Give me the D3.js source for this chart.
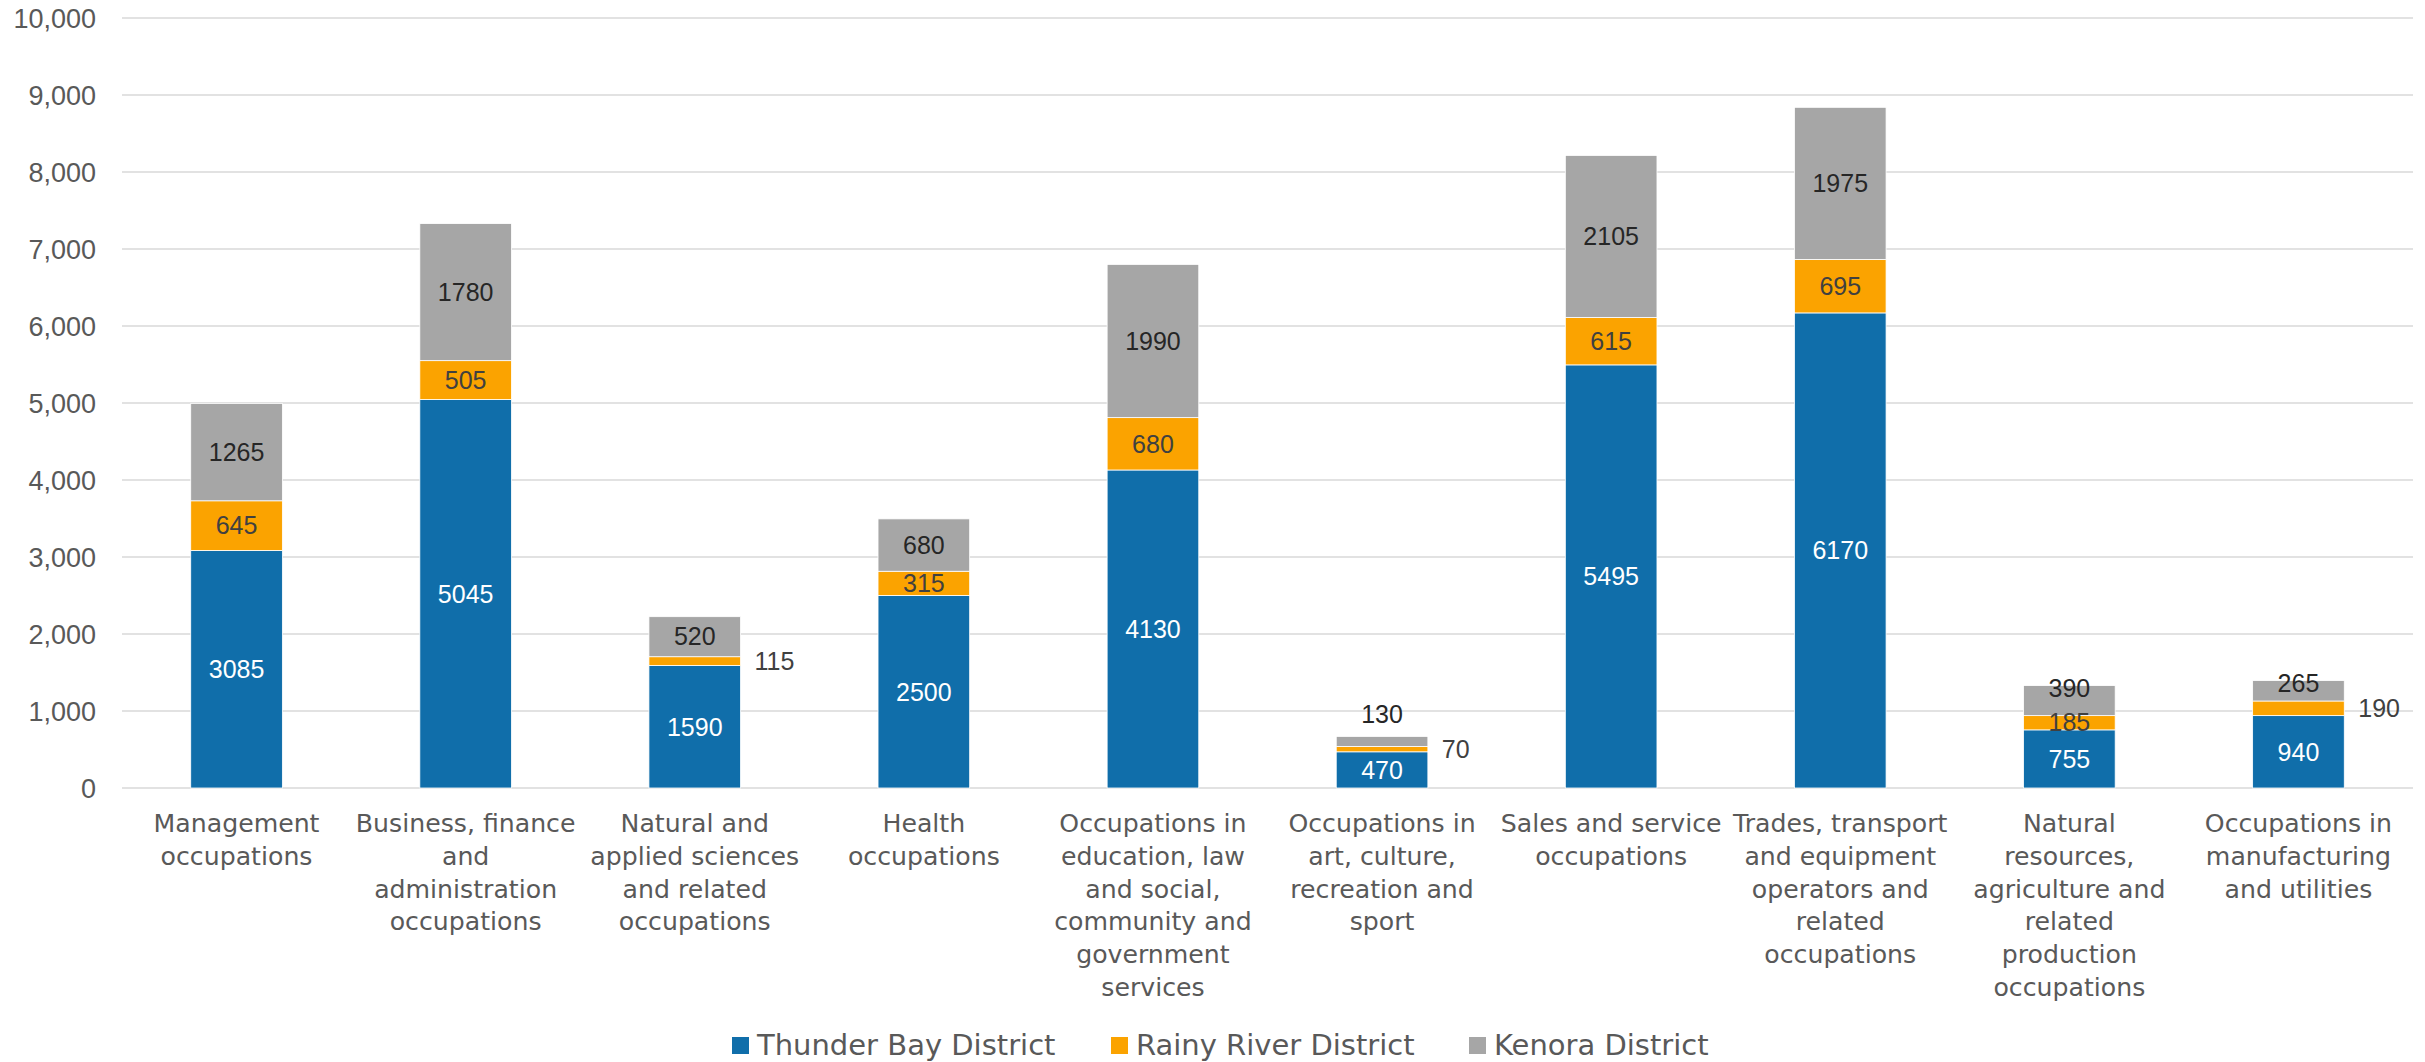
<!DOCTYPE html>
<html><head><meta charset="utf-8">
<script src="https://cdn.jsdelivr.net/npm/d3@7"></script>
<style>
html,body{margin:0;padding:0;background:#fff;}
svg{display:block;}
</style></head>
<body>
<svg id="chart" width="2425" height="1062"></svg>
<script>
const categories = [
  ["Management", "occupations"],
  ["Business, finance", "and", "administration", "occupations"],
  ["Natural and", "applied sciences", "and related", "occupations"],
  ["Health", "occupations"],
  ["Occupations in", "education, law", "and social,", "community and", "government", "services"],
  ["Occupations in", "art, culture,", "recreation and", "sport"],
  ["Sales and service", "occupations"],
  ["Trades, transport", "and equipment", "operators and", "related", "occupations"],
  ["Natural", "resources,", "agriculture and", "related", "production", "occupations"],
  ["Occupations in", "manufacturing", "and utilities"]
];
const seriesNames = ["Thunder Bay District", "Rainy River District", "Kenora District"];
const thunderBay = [3085, 5045, 1590, 2500, 4130, 470, 5495, 6170, 755, 940];
const rainyRiver = [645, 505, 115, 315, 680, 70, 615, 695, 185, 190];
const kenora = [1265, 1780, 520, 680, 1990, 130, 2105, 1975, 390, 265];
const yTicks = [0, 1000, 2000, 3000, 4000, 5000, 6000, 7000, 8000, 9000, 10000];

(function() {
const colors = ["#106EAA", "#FBA300", "#A6A6A6"];
const labelColors = ["#ffffff", "#404040", "#262626"];
const placement = {
  1: {2: "right", 5: "right", 9: "right"},
  2: {5: "above", 8: "top", 9: "top"}
};

const svg = d3.select("#chart");
const pLeft = 122, pRight = 2413, pTop = 18, pBottom = 788;
const numFont = "'Liberation Sans', Arial, sans-serif";
const txtFont = "'DejaVu Sans', sans-serif";

const idx = d3.range(categories.length);
const x = d3.scaleBand().domain(idx).range([pLeft, pRight]).paddingInner(0.6).paddingOuter(0.3);
const y = d3.scaleLinear().domain([0, 10000]).range([pBottom, pTop]);

svg.append("g").selectAll("line").data(yTicks).join("line")
  .attr("x1", pLeft).attr("x2", pRight)
  .attr("y1", d => y(d)).attr("y2", d => y(d))
  .attr("stroke", "#D9D9D9").attr("stroke-width", 1.6);

const yAxis = d3.axisLeft(y).tickValues(yTicks).tickFormat(d3.format(",")).tickSize(0).tickPadding(0);
const ya = svg.append("g").attr("transform", "translate(96,0)").call(yAxis);
ya.select(".domain").remove();
ya.selectAll("text").attr("font-family", numFont).attr("font-size", 27).attr("fill", "#595959").attr("dy", "0.35em");

const rows = idx.map(i => ({i, s0: thunderBay[i], s1: rainyRiver[i], s2: kenora[i]}));
const stacked = d3.stack().keys(["s0", "s1", "s2"])(rows);

const g = svg.append("g");
stacked.forEach((layer, si) => {
  g.append("g").selectAll("rect").data(layer).join("rect")
    .attr("x", d => x(d.data.i))
    .attr("width", x.bandwidth())
    .attr("y", d => y(d[1]))
    .attr("height", d => y(d[0]) - y(d[1]))
    .attr("fill", colors[si])
    .attr("stroke", "#ffffff").attr("stroke-width", 0.8);
});

stacked.forEach((layer, si) => {
  g.append("g").selectAll("text").data(layer).join("text")
    .each(function(d) {
      const i = d.data.i;
      const p = (placement[si] || {})[i] || "center";
      const val = d[1] - d[0];
      let lx = x(i) + x.bandwidth() / 2;
      let ly = (y(d[0]) + y(d[1])) / 2;
      let anchor = "middle";
      let fill = labelColors[si];
      if (p === "right") { lx = x(i) + x.bandwidth() + 14; anchor = "start"; fill = "#404040"; }
      else if (p === "above") { ly = y(d[1]) - 22; }
      else if (p === "top") { ly = y(d[1]) + 3; }
      d3.select(this)
        .attr("x", lx).attr("y", ly).attr("dy", "0.35em")
        .attr("text-anchor", anchor)
        .attr("font-family", numFont).attr("font-size", 25)
        .attr("fill", fill)
        .text(val);
    });
});

const xl = svg.append("g");
idx.forEach(i => {
  const cx = x(i) + x.bandwidth() / 2;
  const t = xl.append("text")
    .attr("x", cx).attr("y", 832)
    .attr("text-anchor", "middle")
    .attr("font-family", txtFont).attr("font-size", 25.2)
    .attr("fill", "#595959");
  categories[i].forEach((line, k) => {
    t.append("tspan").attr("x", cx).attr("y", 832 + k * 32.8).text(line);
  });
});

const legendX = [732, 1111, 1469];
const lg = svg.append("g");
seriesNames.forEach((name, si) => {
  lg.append("rect").attr("x", legendX[si]).attr("y", 1037).attr("width", 17).attr("height", 17).attr("fill", colors[si]);
  lg.append("text").attr("x", legendX[si] + 25).attr("y", 1055)
    .attr("font-family", txtFont).attr("font-size", 29).attr("fill", "#595959").text(name);
});
})();
</script>
</body></html>
